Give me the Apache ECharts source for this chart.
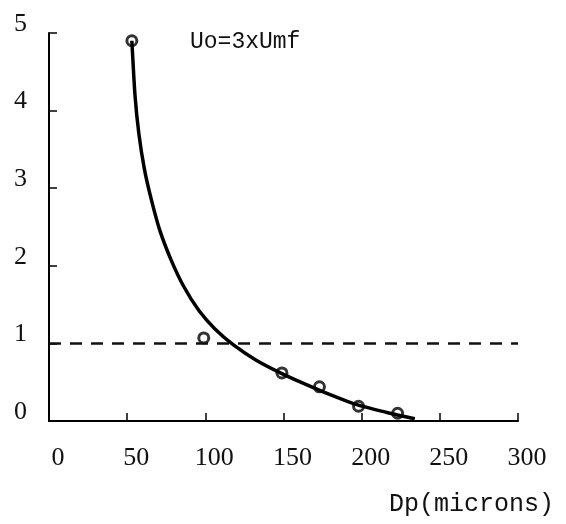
<!DOCTYPE html>
<html>
<head>
<meta charset="utf-8">
<script src="https://cdn.jsdelivr.net/npm/echarts@6/dist/echarts.min.js"></script>
<style>
html,body{margin:0;padding:0;background:#fff;}
#chart{width:566px;height:524px;}
</style>
</head>
<body>
<div id="chart"></div>
<script>
// Measured points
const pointX = [53, 99, 149, 173, 198, 223];
const pointY = [4.9, 1.07, 0.62, 0.44, 0.19, 0.10];
// Fitted curve
const curveX = [53, 55, 57.5, 61, 65.5, 71, 78, 86, 96, 106, 118, 132, 147, 161, 175, 197, 218, 234];
const curveY = [4.9, 4.2, 3.7, 3.25, 2.85, 2.45, 2.08, 1.74, 1.42, 1.19, 0.98, 0.79, 0.63, 0.5, 0.38, 0.21, 0.1, 0.03];
// Reference line Uo/Umf = 1
const refX = [0, 300];
const refY = [1, 1];
const xTicks = [0, 50, 100, 150, 200, 250, 300];
const yTicks = [0, 1, 2, 3, 4, 5];
const annotation = 'Uo=3xUmf';
const xName = 'Dp(microns)';

const chart = echarts.init(document.getElementById('chart'), null, {renderer: 'canvas'});
const zip = (a, b) => a.map((v, i) => [v, b[i]]);
const tickFont = {fontFamily: 'Liberation Serif', fontSize: 26, color: '#111'};

chart.setOption({
  animation: false,
  backgroundColor: '#fff',
  grid: {left: 49, right: 48, top: 33, bottom: 103, containLabel: false},
  xAxis: {
    type: 'value', min: xTicks[0], max: xTicks[xTicks.length - 1], interval: 50,
    axisLine: {show: true, lineStyle: {color: '#000', width: 2}},
    axisTick: {show: true, inside: true, length: 8, lineStyle: {color: '#000', width: 1.5}},
    splitLine: {show: false},
    axisLabel: Object.assign({margin: 24, padding: [0, 0, 0, 18]}, tickFont)
  },
  yAxis: {
    type: 'value', min: yTicks[0], max: yTicks[yTicks.length - 1], interval: 1,
    axisLine: {show: true, lineStyle: {color: '#000', width: 2}},
    axisTick: {show: true, inside: true, length: 8, lineStyle: {color: '#000', width: 1.5}},
    splitLine: {show: false},
    axisLabel: Object.assign({margin: 22, verticalAlign: 'bottom', lineHeight: 18}, tickFont)
  },
  graphic: [
    {type: 'text', left: 190, top: 30, style: {text: annotation, fontFamily: 'Liberation Mono', fontSize: 23, fill: '#111'}},
    {type: 'text', left: 389, top: 492, style: {text: xName, fontFamily: 'Liberation Mono', fontSize: 25, fill: '#111'}}
  ],
  series: [
    {
      type: 'line', data: zip(refX, refY), showSymbol: false, silent: true,
      lineStyle: {color: '#111', width: 2.5, type: [12, 9]}
    },
    {
      type: 'line', data: zip(curveX, curveY), showSymbol: false, smooth: 0.2, silent: true,
      lineStyle: {color: '#000', width: 3.5}
    },
    {
      type: 'scatter', data: zip(pointX, pointY), symbol: 'circle', symbolSize: 10,
      itemStyle: {color: '#fff', borderColor: '#000', borderWidth: 3}
    }
  ]
});
</script>
</body>
</html>
